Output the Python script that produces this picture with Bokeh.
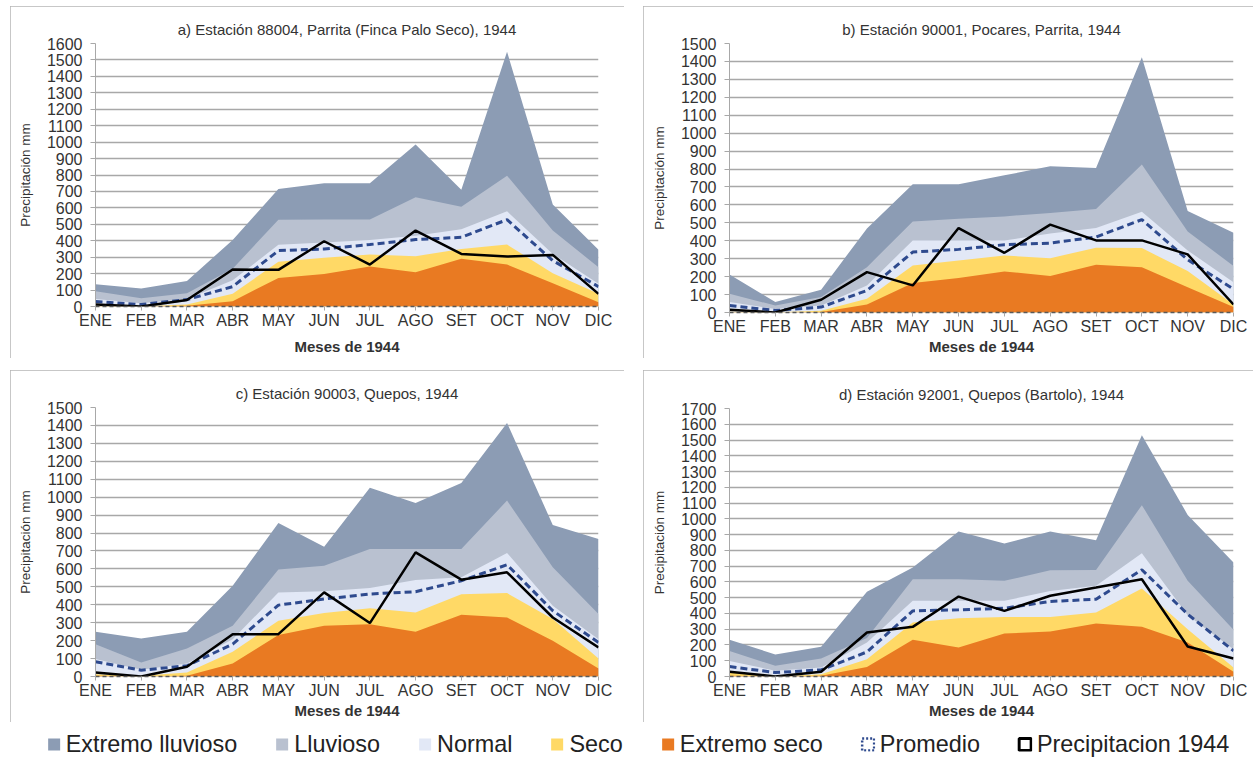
from bokeh.plotting import figure
from bokeh.models import Range1d, FixedTicker, Legend, LegendItem
from bokeh.layouts import column, row
from bokeh.embed import file_html
from bokeh.resources import INLINE

months = ["ENE", "FEB", "MAR", "ABR", "MAY", "JUN", "JUL", "AGO", "SET", "OCT", "NOV", "DIC"]

# ---- a) Estación 88004
a_title = "a) Estación 88004, Parrita (Finca Palo Seco), 1944"
a_ymax = 1600
a_ext_lluv = [135, 110, 155, 405, 715, 750, 750, 985, 710, 1550, 620, 345]
a_lluv = [93, 50, 81, 230, 528, 530, 530, 665, 607, 796, 462, 239]
a_normal = [45, 20, 45, 160, 375, 390, 405, 431, 470, 579, 320, 138]
a_seco = [6, 2, 12, 77, 273, 296, 316, 306, 350, 377, 202, 77]
a_ext_seco = [2, 0, 5, 32, 174, 198, 243, 208, 290, 255, 142, 26]
a_prom = [30, 12, 42, 121, 340, 350, 377, 407, 421, 528, 279, 121]
a_precip = [12, 0, 40, 225, 223, 397, 255, 462, 320, 304, 314, 77]

# ---- b) Estación 90001
b_title = "b) Estación 90001, Pocares, Parrita, 1944"
b_ymax = 1500
b_ext_lluv = [212, 58, 127, 469, 715, 715, 765, 815, 806, 1423, 566, 445]
b_lluv = [104, 39, 86, 253, 508, 523, 536, 555, 577, 825, 452, 259]
b_normal = [58, 20, 39, 151, 402, 402, 402, 440, 471, 562, 346, 169]
b_seco = [4, 2, 10, 76, 262, 290, 318, 303, 361, 359, 231, 45]
b_ext_seco = [1, 0, 3, 45, 164, 192, 229, 203, 266, 253, 141, 30]
b_prom = [39, 11, 30, 123, 337, 352, 378, 387, 421, 518, 294, 130]
b_precip = [15, 0, 71, 225, 151, 471, 333, 490, 402, 402, 324, 45]

# ---- c) Estación 90003
c_title = "c) Estación 90003, Quepos, 1944"
c_ymax = 1500
c_ext_lluv = [249, 212, 249, 506, 856, 724, 1052, 968, 1079, 1414, 845, 767]
c_lluv = [180, 78, 156, 283, 596, 618, 711, 711, 711, 981, 609, 348]
c_normal = [97, 37, 73, 208, 469, 475, 493, 538, 553, 689, 395, 208]
c_seco = [13, 4, 22, 138, 311, 354, 380, 357, 458, 465, 320, 100]
c_ext_seco = [4, 0, 4, 73, 231, 283, 292, 249, 344, 329, 199, 45]
c_prom = [82, 35, 60, 181, 398, 432, 460, 473, 534, 623, 367, 190]
c_precip = [22, 0, 54, 236, 236, 469, 298, 692, 540, 581, 329, 162]

# ---- d) Estación 92001
d_title = "d) Estación 92001, Quepos (Bartolo), 1944"
d_ymax = 1700
d_ext_lluv = [233, 140, 188, 537, 691, 920, 844, 920, 865, 1531, 1025, 723]
d_lluv = [161, 68, 114, 245, 617, 617, 607, 674, 676, 1087, 607, 296]
d_normal = [99, 36, 57, 216, 480, 480, 480, 543, 575, 782, 389, 173]
d_seco = [25, 0, 15, 110, 342, 370, 378, 378, 406, 558, 300, 57]
d_ext_seco = [4, 0, 4, 61, 233, 184, 273, 285, 336, 315, 216, 30]
d_prom = [63, 25, 42, 156, 416, 423, 433, 476, 490, 677, 395, 163]
d_precip = [30, 0, 30, 279, 315, 507, 416, 512, 564, 617, 190, 114]

y_title = "Precipitación mm"
x_title = "Meses de 1944"
legend_labels = ["Extremo lluvioso", "Lluvioso", "Normal", "Seco", "Extremo seco",
                 "Promedio", "Precipitacion 1944"]

C_EXT_LLUV = "#8c9cb4"
C_LLUV = "#b9c1d0"
C_NORMAL = "#e2e8f6"
C_SECO = "#ffd966"
C_EXT_SECO = "#e97a22"
C_PROM = "#2e4a8e"
C_PRECIP = "#000000"
FONT = "Liberation Sans"
TXT = "#333333"
GRID = "#a8a8a8"


def make_panel(title, ymax, series, prom, precip, width, height, mb, xlab_standoff):
    p = figure(width=width, height=height, output_backend="svg", toolbar_location=None,
               x_range=Range1d(0, 11), y_range=Range1d(0, ymax),
               min_border_left=mb[0], min_border_right=mb[1],
               min_border_top=mb[2], min_border_bottom=mb[3])
    p.title.text = title
    p.title.align = "center"
    p.title.text_font = FONT
    p.title.text_font_size = "15px"
    p.title.text_font_style = "normal"
    p.title.text_color = TXT
    p.title.standoff = 12
    p.outline_line_color = None
    p.styles = {"outline": "1px solid #b4b4b4", "outline-offset": "-1px"}

    x = list(range(12))
    colors = [C_EXT_LLUV, C_LLUV, C_NORMAL, C_SECO, C_EXT_SECO]
    for vals, col in zip(series, colors):
        p.varea(x=x, y1=[0] * 12, y2=vals, fill_color=col, fill_alpha=1.0)
    p.line(x, prom, line_color=C_PROM, line_width=3, line_dash="7 4")
    p.line(x, precip, line_color=C_PRECIP, line_width=2.5)

    # x axis
    p.xaxis.ticker = FixedTicker(ticks=x)
    p.xaxis.major_label_overrides = {i: m for i, m in enumerate(months)}
    p.xaxis.axis_label = x_title
    p.xaxis.axis_label_text_font = FONT
    p.xaxis.axis_label_text_font_size = "15px"
    p.xaxis.axis_label_text_font_style = "bold"
    p.xaxis.axis_label_text_color = TXT
    p.xaxis.axis_label_standoff = xlab_standoff
    p.xaxis.major_label_standoff = 1
    p.xaxis.major_tick_in = 0
    p.xaxis.major_tick_out = 4
    p.xaxis.minor_tick_line_color = None
    p.xaxis.axis_line_color = "#5a5a5a"
    p.xaxis.axis_line_dash = "4 3"
    p.xaxis.axis_line_width = 1.5
    p.xaxis.major_tick_line_color = GRID

    # y axis
    p.yaxis.ticker = FixedTicker(ticks=list(range(0, ymax + 1, 100)))
    p.yaxis.axis_label = y_title
    p.yaxis.axis_label_text_font = FONT
    p.yaxis.axis_label_text_font_size = "13.5px"
    p.yaxis.axis_label_text_font_style = "normal"
    p.yaxis.axis_label_text_color = TXT
    p.yaxis.axis_label_standoff = 11
    p.yaxis.major_label_standoff = 8
    p.yaxis.major_tick_in = 0
    p.yaxis.major_tick_out = 5
    p.yaxis.minor_tick_line_color = None
    p.yaxis.axis_line_color = GRID
    p.yaxis.major_tick_line_color = GRID

    for ax in (p.xaxis, p.yaxis):
        ax.major_label_text_font = FONT
        ax.major_label_text_font_size = "16px"
        ax.major_label_text_color = TXT

    p.xgrid.grid_line_color = None
    p.ygrid.grid_line_color = GRID
    p.ygrid.grid_line_width = 1.5
    p.ygrid.level = "underlay"
    return p


pa = make_panel(a_title, a_ymax, [a_ext_lluv, a_lluv, a_normal, a_seco, a_ext_seco],
                a_prom, a_precip, 614, 352, (85, 26, 37, 52), 6)
pb = make_panel(b_title, b_ymax, [b_ext_lluv, b_lluv, b_normal, b_seco, b_ext_seco],
                b_prom, b_precip, 610, 352, (86, 20, 37, 46), 0)
pc = make_panel(c_title, c_ymax, [c_ext_lluv, c_lluv, c_normal, c_seco, c_ext_seco],
                c_prom, c_precip, 614, 352, (85, 25, 37, 46), 0)
pd = make_panel(d_title, d_ymax, [d_ext_lluv, d_lluv, d_normal, d_seco, d_ext_seco],
                d_prom, d_precip, 610, 352, (86, 20, 38, 46), 0)

# legend strip
pl = figure(width=1231, height=28, output_backend="svg", toolbar_location=None,
            x_range=Range1d(0, 1), y_range=Range1d(0, 1), min_border=0,
            margin=(0, 0, 0, 12))
pl.axis.visible = False
pl.grid.visible = False
pl.outline_line_color = None
leg_renderers = []
for col in [C_EXT_LLUV, C_LLUV, C_NORMAL, C_SECO, C_EXT_SECO]:
    leg_renderers.append(pl.rect(x=[5], y=[5], width=1, height=1, fill_color=col, line_color=None))
leg_renderers.append(pl.rect(x=[5], y=[5], width=1, height=1, fill_alpha=0,
                             line_color=C_PROM, line_width=2.5, line_dash="2 2"))
leg_renderers.append(pl.rect(x=[5], y=[5], width=1, height=1, fill_alpha=0,
                             line_color=C_PRECIP, line_width=3))
legend = Legend(items=[LegendItem(label=lab, renderers=[r]) for lab, r in zip(legend_labels, leg_renderers)],
                orientation="horizontal", location="center",
                glyph_width=15, glyph_height=15, label_standoff=5, spacing=37,
                label_text_font=FONT, label_text_font_size="23.4px", label_text_color="#222222",
                border_line_color=None, background_fill_alpha=0, padding=0, margin=0)
pl.add_layout(legend, "center")

panels = row(column(pa, pc, spacing=12), column(pb, pd, spacing=12), spacing=19)
layout = column(panels, pl, spacing=8, margin=(6, 0, 0, 10))

open("out.html", "w").write(file_html(layout, INLINE))
